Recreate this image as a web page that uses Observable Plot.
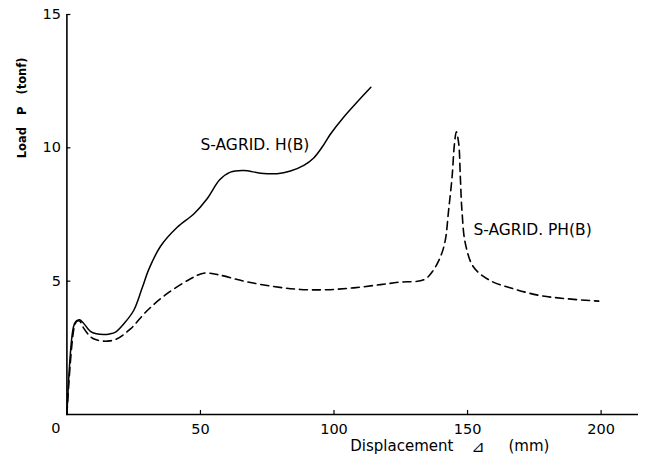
<!DOCTYPE html>
<html><head><meta charset="utf-8">
<script src="https://cdn.jsdelivr.net/npm/d3@7"></script>
<script src="https://cdn.jsdelivr.net/npm/@observablehq/plot@0.6"></script>
<style>html,body{margin:0;padding:0;background:#fff;}</style>
</head><body><div id="chart"></div>
<script>
// S-AGRID.H(B) — solid curve
const solidX = [0, 2.5, 3.5, 4.7, 6.0, 8.8, 11.0, 13.8, 16.0, 18.2, 21.3, 25.0, 28.2, 30.7, 35.0, 41.3, 47.5, 52.5, 57.2, 61.2, 66.2, 72.5, 78.7, 83.7, 88.7, 92.4, 95.5, 98.7, 103.6, 108.6, 113.8];
const solidY = [0, 3.3, 3.5, 3.55, 3.45, 3.12, 3.03, 3.0, 3.02, 3.09, 3.4, 3.9, 4.75, 5.45, 6.3, 7.02, 7.52, 8.09, 8.8, 9.09, 9.15, 9.05, 9.03, 9.13, 9.34, 9.62, 10.02, 10.52, 11.15, 11.71, 12.27];
// S-AGRID.PH(B) — dashed curve
const dashX = [0, 2.8, 3.8, 4.8, 6.2, 8.8, 11.0, 13.8, 16.0, 18.8, 23.8, 30.1, 37.5, 46.3, 51.2, 56.3, 66.2, 77.4, 87.4, 97.4, 107.4, 117.4, 124.2, 133.6, 136.7, 139.8, 141.6, 142.9, 144.2, 145.1, 145.8, 146.7, 147.3, 147.9, 149.2, 152.3, 158.5, 167.3, 177.2, 187.2, 199.1];
const dashY = [0, 3.3, 3.5, 3.5, 3.25, 2.92, 2.8, 2.75, 2.76, 2.84, 3.21, 3.9, 4.53, 5.09, 5.3, 5.25, 5.0, 4.8, 4.69, 4.68, 4.75, 4.87, 4.96, 5.05, 5.34, 5.9, 6.5, 7.65, 8.9, 10.15, 10.6, 10.15, 8.9, 7.65, 6.4, 5.52, 5.02, 4.71, 4.46, 4.34, 4.25];

const xTicks = [50, 100, 150, 200];
const yTicks = [5, 10, 15];
const originLabel = ["0"];
const seriesNames = ["S-AGRID.\u00a0H(B)", "S-AGRID.\u00a0PH(B)"];
const xLabelParts = ["Displacement", "⊿", "(mm)"];
const yLabel = "Load\u00a0\u00a0\u00a0P\u00a0\u00a0\u00a0(tonf)";

const solid = solidX.map((x, i) => ({x, y: solidY[i]}));
const dashed = dashX.map((x, i) => ({x, y: dashY[i]}));

const W = 645, H = 468, mL = 66.4, mR = 7, mT = 14, mB = 54;
const tickLen = 4;

const chart = Plot.plot({
  width: W, height: H,
  marginLeft: mL, marginRight: mR, marginTop: mT, marginBottom: mB,
  x: {domain: [0, 214]},
  y: {domain: [0, 15]},
  style: {fontFamily: "DejaVu Sans", fontSize: "14px", color: "#000", background: "#fff"},
  marks: [
    Plot.ruleX([0], {stroke: "#000", strokeWidth: 1.6}),
    Plot.ruleY([0], {stroke: "#000", strokeWidth: 1.6}),
    Plot.axisX({ticks: xTicks, tickSize: 0, tickPadding: 9, label: null, fontSize: 14.5}),
    Plot.axisY({ticks: yTicks, tickSize: 0, tickPadding: 6, label: null, fontSize: 14.5}),
    Plot.tickX(xTicks, {x: d => d, stroke: "#000", strokeWidth: 1.2, insetTop: (H - mT - mB) - tickLen}),
    Plot.tickY(yTicks, {y: d => d, stroke: "#000", strokeWidth: 1.2, insetRight: (W - mL - mR) - tickLen}),
    Plot.text(originLabel, {x: 0, y: 0, dx: -11, dy: 14, fontSize: 14.5}),
    Plot.line(solid, {x: "x", y: "y", curve: "catmull-rom", stroke: "#000", strokeWidth: 1.5}),
    Plot.line(dashed, {x: "x", y: "y", curve: "catmull-rom", stroke: "#000", strokeWidth: 1.6, strokeDasharray: "8,5"}),
    Plot.text([seriesNames[0]], {x: 50, y: 10.09, textAnchor: "start", fontSize: 15.5}),
    Plot.text([seriesNames[1]], {x: 152.2, y: 6.9, textAnchor: "start", fontSize: 15.5}),
    Plot.text([xLabelParts[0]], {x: 106.1, frameAnchor: "bottom", dy: 36, textAnchor: "start", fontSize: 15}),
    Plot.text([xLabelParts[1]], {x: 153.9, frameAnchor: "bottom", dy: 37, fontSize: 16}),
    Plot.text([xLabelParts[2]], {x: 165.3, frameAnchor: "bottom", dy: 36, textAnchor: "start", fontSize: 15}),
    Plot.text([yLabel], {x: 0, y: 11.5, dx: -45, rotate: -90, fontSize: 11.5, fontWeight: "bold"})
  ]
});
document.getElementById("chart").appendChild(chart);
</script>
</body></html>
